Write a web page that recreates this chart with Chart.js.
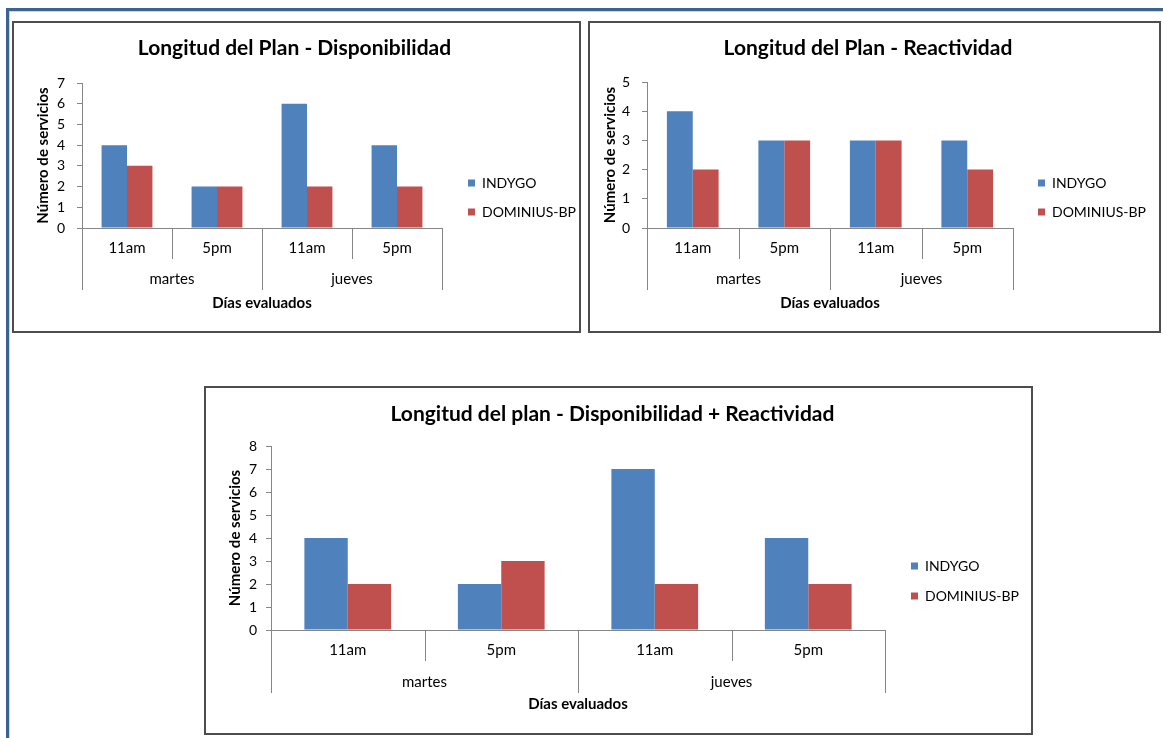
<!DOCTYPE html>
<html lang="es">
<head>
<meta charset="utf-8">
<title>Longitud del plan</title>
<script src="https://cdn.jsdelivr.net/npm/chart.js@4/dist/chart.umd.min.js"></script>
<style>
  html, body { margin: 0; padding: 0; background: #fff; }
  body { width: 1163px; height: 738px; position: relative; overflow: hidden; }
  .rule { position: absolute; background: #3b6494; }
  .rule-soft { position: absolute; background: #c9d6e8; }
  .box { position: absolute; box-sizing: border-box; border: 2px solid #4d4d4d; background: #fff; }
  .box canvas { position: absolute; left: 0; top: 0; }
</style>
</head>
<body>
<div class="rule" style="left:6px;top:8px;width:1157px;height:3px"></div>
<div class="rule" style="left:6px;top:8px;width:3px;height:730px"></div>
<div class="rule-soft" style="left:9px;top:11px;width:1154px;height:1px"></div>
<div class="rule-soft" style="left:9px;top:11px;width:1px;height:727px"></div>

<div class="box" style="left:12px;top:21px;width:569px;height:312px"><canvas id="disp" width="565" height="308"></canvas></div>
<div class="box" style="left:588px;top:21px;width:573px;height:312px"><canvas id="reac" width="569" height="308"></canvas></div>
<div class="box" style="left:204px;top:386px;width:829px;height:349px"><canvas id="total" width="825" height="345"></canvas></div>

<script>
// Categorías: franja horaria dentro de cada día evaluado
const horarios = ['11am', '5pm', '11am', '5pm'];
const dias = ['martes', 'jueves'];
const franjasPorDia = 2;

const series = ['INDYGO', 'DOMINIUS-BP'];

// Número de servicios por franja
const dispIndygo = [4, 2, 6, 4];
const dispDominius = [3, 2, 2, 2];
const reacIndygo = [4, 3, 3, 3];
const reacDominius = [2, 3, 3, 2];
const totalIndygo = [4, 2, 7, 4];
const totalDominius = [2, 3, 2, 2];

const titulos = [
  'Longitud del Plan - Disponibilidad',
  'Longitud del Plan - Reactividad',
  'Longitud del plan - Disponibilidad + Reactividad'
];
const tituloEjeY = 'Número de servicios';
const tituloEjeX = 'Días evaluados';

const AZUL = '#4f81bd';
const ROJO = '#c0504d';
const EJE = '#868686';
const FUENTE = 'Lato, "Open Sans", sans-serif';
const TAM_EJE = 15;      // category, day and axis-title text
const TAM_TICK = 14;     // value ticks
const TAM_LEYENDA = 14;
const TAM_TITULO = 21;

// Places the right-hand legend so its first swatch sits at the requested spot
const legendPlace = {
  id: 'legendPlace',
  afterLayout(chart, args, opts) {
    const lg = chart.legend;
    if (!lg || opts.x == null) return;
    const lo = lg.options.labels;
    const pad = lo.padding;
    const fs = lo.font.size;
    const itemH = Math.max(fs, lo.boxHeight || fs);
    const colH = lg.columnSizes && lg.columnSizes.length ? lg.columnSizes[0].height : 0;
    const curX = lg.left + pad;
    const curMid = (lg.top + pad + lg.bottom - colH) / 2 + itemH / 2;
    const dx = opts.x - curX, dy = opts.y - curMid;
    lg.left += dx; lg.right += dx; lg.top += dy; lg.bottom += dy;
  }
};

// Second level of the category axis: day names with their separators
const categoryGroups = {
  id: 'categoryGroups',
  afterDraw(chart, args, opts) {
    const xs = chart.scales.x;
    const ctx = chart.ctx;
    const n = xs.getLabels().length;
    const edges = [];
    for (let i = 0; i <= n; i++) {
      if (i === 0) edges.push(xs.left);
      else if (i === n) edges.push(xs.right);
      else edges.push((xs.getPixelForValue(i - 1) + xs.getPixelForValue(i)) / 2);
    }
    const y0 = xs.top;
    ctx.save();
    ctx.strokeStyle = opts.color;
    ctx.lineWidth = 1;
    edges.forEach((x, i) => {
      const len = i % opts.span === 0 ? opts.groupDepth : opts.innerDepth;
      const px = Math.round(x) + 0.5;
      ctx.beginPath();
      ctx.moveTo(px, y0);
      ctx.lineTo(px, y0 + len);
      ctx.stroke();
    });
    ctx.fillStyle = '#000';
    ctx.font = opts.fontSize + 'px ' + FUENTE;
    ctx.textAlign = 'center';
    ctx.textBaseline = 'middle';
    opts.labels.forEach((lbl, g) => {
      const xm = (edges[g * opts.span] + edges[(g + 1) * opts.span]) / 2;
      ctx.fillText(lbl, xm, y0 + opts.labelOffset);
    });
    ctx.restore();
  }
};

function grafico(id, cfg) {
  const canvas = document.getElementById(id);
  const H = canvas.height;
  const lhTitulo = TAM_TITULO * 1.2;
  const lhEje = TAM_EJE * 1.2;

  const chart = new Chart(canvas, {
    type: 'bar',
    data: {
      labels: horarios,
      datasets: [
        { label: series[0], data: cfg.a, backgroundColor: AZUL, borderWidth: 0 },
        { label: series[1], data: cfg.b, backgroundColor: ROJO, borderWidth: 0 }
      ]
    },
    options: {
      responsive: false,
      animation: false,
      devicePixelRatio: 1,
      layout: { padding: { left: 0, top: 0, right: 0, bottom: 0 } },
      datasets: { bar: { categoryPercentage: 0.565, barPercentage: 1 } },
      plugins: {
        title: {
          display: true,
          text: cfg.title,
          color: '#000',
          font: { family: FUENTE, size: TAM_TITULO, weight: 'bold' },
          padding: { top: cfg.titleY - lhTitulo / 2, bottom: cfg.plot.top - cfg.titleY - lhTitulo / 2 }
        },
        legend: {
          position: 'right',
          labels: {
            boxWidth: 7, boxHeight: 7, padding: cfg.legend.gap,
            color: '#000', font: { family: FUENTE, size: TAM_LEYENDA }
          }
        },
        tooltip: { enabled: false },
        legendPlace: { x: cfg.legend.x, y: cfg.legend.y },
        categoryGroups: {
          labels: dias, span: franjasPorDia, color: EJE, fontSize: TAM_EJE,
          innerDepth: 31, groupDepth: cfg.groupDepth, labelOffset: cfg.groupOffset
        }
      },
      scales: {
        x: {
          grid: { display: true, drawOnChartArea: false, drawTicks: false },
          border: { display: true, color: EJE, width: 1 },
          ticks: {
            color: '#000', font: { family: FUENTE, size: TAM_EJE },
            padding: cfg.labelOffset - lhEje / 2, maxRotation: 0, autoSkip: false
          },
          title: {
            display: true, text: tituloEjeX, color: '#000',
            font: { family: FUENTE, size: TAM_EJE, weight: 'bold' },
            padding: { top: 0, bottom: H - cfg.xTitleY - lhEje / 2 }
          },
          afterFit(s) { s.height = H - cfg.plot.bottom; }
        },
        y: {
          min: 0,
          max: cfg.max,
          ticks: { stepSize: 1, color: '#000', font: { family: FUENTE, size: TAM_TICK }, padding: cfg.tickPad },
          grid: { drawOnChartArea: false, drawTicks: true, tickLength: 5, color: EJE },
          border: { display: true, color: EJE, width: 1 },
          title: {
            display: true, text: tituloEjeY, color: '#000',
            font: { family: FUENTE, size: TAM_EJE, weight: 'bold' },
            padding: { top: cfg.yTitleX - lhEje / 2, bottom: 0 }
          },
          afterFit(s) { s.width = cfg.plot.left; }
        }
      }
    },
    plugins: [legendPlace, categoryGroups]
  });

  // leave the remaining width on the right to the legend
  chart.options.layout.padding.right = Math.max(0, chart.chartArea.right - cfg.plot.right);
  chart.update('none');
  return chart;
}

grafico('disp', {
  title: titulos[0], titleY: 25, a: dispIndygo, b: dispDominius, max: 7,
  plot: { left: 68, right: 428, top: 60, bottom: 205 },
  tickPad: 12, yTitleX: 29, xTitleY: 280, labelOffset: 20, groupOffset: 51, groupDepth: 62,
  legend: { x: 454, y: 160, gap: 15 }
});

grafico('reac', {
  title: titulos[1], titleY: 25, a: reacIndygo, b: reacDominius, max: 5,
  plot: { left: 57, right: 423, top: 59, bottom: 205 },
  tickPad: 12, yTitleX: 20, xTitleY: 280, labelOffset: 20, groupOffset: 51, groupDepth: 62,
  legend: { x: 448, y: 160, gap: 15 }
});

grafico('total', {
  title: titulos[2], titleY: 26, a: totalIndygo, b: totalDominius, max: 8,
  plot: { left: 65, right: 679, top: 58, bottom: 242 },
  tickPad: 9, yTitleX: 29, xTitleY: 316, labelOffset: 20, groupOffset: 52, groupDepth: 63,
  legend: { x: 705, y: 178, gap: 16 }
});
</script>
</body>
</html>
